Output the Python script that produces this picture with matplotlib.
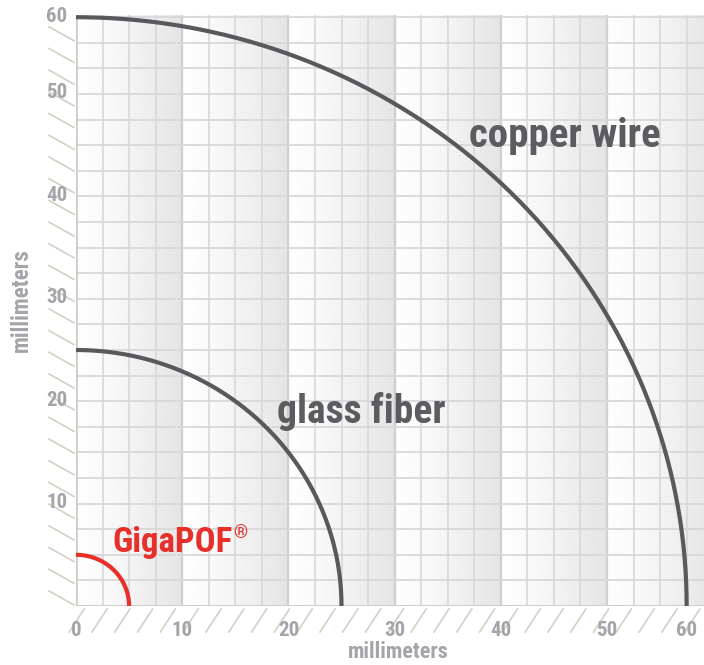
import numpy as np
import matplotlib
matplotlib.use("Agg")
import matplotlib.pyplot as plt
from matplotlib.lines import Line2D

# ---- data (in grid millimetres) ----
cable_names = ["GigaPOF", "glass fiber", "copper wire"]
bend_radius = [5, 25, 57.5]          # outer arc sits on the last grid line, labelled "60"
arc_colors = ["#e8302a", "#58595c", "#58595c"]
tick_pos = [0, 10, 20, 30, 40, 50, 57.5]
tick_labels = ["0", "10", "20", "30", "40", "50", "60"]
label_pos = {"copper wire": (46.0, 45.9), "glass fiber": (26.9, 19.0)}
gigapof_pos = (3.4, 5.3)

FONT = ["Roboto Condensed", "Liberation Sans Narrow", "Roboto", "DejaVu Sans"]
plt.rcParams["font.family"] = FONT

W, H = 704, 665
fig = plt.figure(figsize=(W / 100, H / 100), dpi=100)
fig.patch.set_facecolor("white")

x0_px, y0_px = 76, 606          # pixel of data origin (from top-left)
sx, sy = 10.62, 10.24           # px per mm
xmax = (W - x0_px) / sx
ymax = (y0_px - 15) / sy
ax = fig.add_axes([x0_px / W, (H - y0_px) / H, (W - x0_px) / W, (y0_px - 15) / H])
ax.set_xlim(0, xmax)
ax.set_ylim(0, ymax)

# background: vertical bands, white -> grey towards every 10 mm line
xs = np.linspace(0, xmax, 1200)
frac = (xs % 10) / 10.0
shade = 0.995 - 0.10 * frac ** 1.3
img = np.tile(shade, (2, 1))
ax.imshow(img, cmap="gray", vmin=0, vmax=1, extent=(0, xmax, 0, ymax),
          aspect="auto", origin="lower", zorder=0, interpolation="bilinear")

# grid
for g in np.arange(0, xmax, 2.5):
    major = abs(g % 10) < 1e-6
    ax.axvline(g, color="#cfcfcf" if major else "#dadada", lw=1.6 if major else 1.3, zorder=1)
for g in np.arange(0, ymax, 2.5):
    ax.axhline(g, color="#d8d8d8", lw=1.3, zorder=1)
ax.axvline(0, color="#cbcbcb", lw=1.8, zorder=1)
ax.axhline(0, color="#cbcbcb", lw=1.8, zorder=1)

for s in ax.spines.values():
    s.set_visible(False)
ax.set_xticks([])
ax.set_yticks([])

# arcs
theta = np.linspace(0, np.pi / 2, 300)
for name, r, c in zip(cable_names, bend_radius, arc_colors):
    ax.plot(r * np.cos(theta), r * np.sin(theta), color=c, lw=3.0,
            solid_capstyle="butt", zorder=3, clip_on=False)

# hatching on the margins (decoration, in figure pixels)
hcol = "#d5cfc4"
def fpx(x, y):
    return x / W, 1 - y / H
yy = 605.0
while yy > 30:
    (a, b), (c, d) = fpx(49, yy - 14), fpx(74, yy)
    fig.add_artist(Line2D([a, c], [b, d], color=hcol, lw=1.2, transform=fig.transFigure, zorder=0))
    yy -= 21.7
xx = 69.2
while xx < W:
    (a, b), (c, d) = fpx(xx, 632), fpx(xx + 15, 609)
    fig.add_artist(Line2D([a, c], [b, d], color=hcol, lw=1.2, transform=fig.transFigure, zorder=0))
    xx += 22.8

# tick labels
tcol = "#a3a5a9"
for p, lab in zip(tick_pos, tick_labels):
    ax.text(p, -2.4, lab, ha="center", va="center", fontsize=15, fontweight="bold",
            color=tcol, clip_on=False, zorder=4)
for p, lab in zip(tick_pos[1:], tick_labels[1:]):
    ax.text(-0.8, p + 0.1, lab, ha="right", va="center", fontsize=15, fontweight="bold",
            color=tcol, clip_on=False, zorder=4)

fig.text(398 / W, 1 - 652 / H, "millimeters", ha="center", va="center", fontsize=16,
         fontweight="bold", color=tcol)
fig.text(21 / W, 1 - 300 / H, "millimeters", ha="center", va="center", fontsize=16.5,
         fontweight="bold", color=tcol, rotation=90)

# curve labels
for name, fs in [("copper wire", 29.5), ("glass fiber", 28.5)]:
    x, y = label_pos[name]
    ax.text(x, y, name, ha="center", va="center", fontsize=fs, fontweight="bold",
            color="#5b5c5f", zorder=4)
t = ax.text(gigapof_pos[0], gigapof_pos[1], cable_names[0], ha="left", va="baseline",
            fontsize=25, fontweight="bold", color=arc_colors[0], zorder=4)
ax.annotate("®", xy=(1, 1), xycoords=t, xytext=(0.5, 1), textcoords="offset points",
            ha="left", va="top", fontsize=13, fontweight="bold", color=arc_colors[0])

fig.savefig("out.png", dpi=100, facecolor="white")
